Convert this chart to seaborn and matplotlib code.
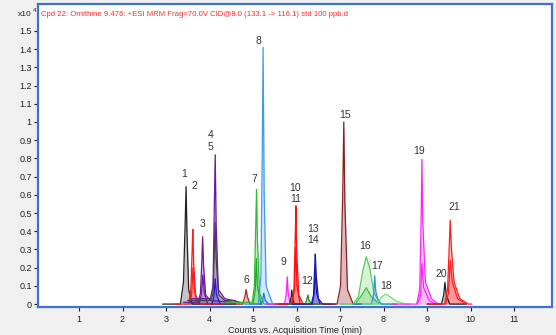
import matplotlib
matplotlib.use("Agg")
import matplotlib.pyplot as plt
from matplotlib.ticker import FuncFormatter, FixedLocator
import seaborn as sns
import pandas as pd

# ---------------- data (counts in units of 1e4, time in min) ----------------
title_text = "Cpd 22: Ornithine 9.476: +ESI MRM Frag=70.0V CID@8.0 (133.1 -> 116.1) std 100 ppb.d"
x_label = "Counts vs. Acquisition Time (min)"
x_ticks = [1, 2, 3, 4, 5, 6, 7, 8, 9, 10, 11]
y_ticks = [0, 0.1, 0.2, 0.3, 0.4, 0.5, 0.6, 0.7, 0.8, 0.9, 1.0, 1.1, 1.2, 1.3, 1.4, 1.5]

t_p1 = [2.92, 3.33, 3.40, 3.44, 3.46, 3.48, 3.52, 3.60, 4.60]
c_p1 = [0, 0, 0.12, 0.45, 0.645, 0.40, 0.08, 0, 0]
t_p2 = [3.20, 3.52, 3.57, 3.60, 3.615, 3.635, 3.68, 3.78, 4.30]
c_p2 = [0, 0, 0.08, 0.30, 0.41, 0.22, 0.05, 0, 0]
t_p2b = [3.55, 3.59, 3.62, 3.65, 3.72]
c_p2b = [0, 0.06, 0.20, 0.08, 0]
t_p3 = [3.40, 3.74, 3.79, 3.825, 3.84, 3.86, 3.91, 4.02, 4.50]
c_p3 = [0.01, 0.01, 0.06, 0.25, 0.37, 0.22, 0.05, 0.02, 0.01]
t_p3b = [3.76, 3.81, 3.845, 3.88, 3.96]
c_p3b = [0, 0.05, 0.16, 0.06, 0]
t_p4 = [3.50, 4.03, 4.08, 4.11, 4.125, 4.15, 4.21, 4.35, 4.60]
c_p4 = [0.02, 0.02, 0.06, 0.30, 0.45, 0.25, 0.05, 0.02, 0.02]
t_p5 = [3.60, 4.02, 4.08, 4.11, 4.13, 4.15, 4.20, 4.35, 4.70]
c_p5 = [0.03, 0.03, 0.10, 0.55, 0.82, 0.45, 0.08, 0.03, 0.01]
t_p5b = [4.05, 4.10, 4.13, 4.16, 4.25]
c_p5b = [0, 0.04, 0.14, 0.05, 0]
t_p6 = [4.50, 4.76, 4.81, 4.84, 4.87, 4.93, 5.20]
c_p6 = [0, 0, 0.04, 0.08, 0.04, 0, 0]
t_p7 = [4.40, 4.98, 5.03, 5.06, 5.08, 5.10, 5.15, 5.25, 5.60]
c_p7 = [0.01, 0.01, 0.10, 0.42, 0.63, 0.35, 0.06, 0, 0]
t_p7b = [5.00, 5.05, 5.075, 5.10, 5.18]
c_p7b = [0, 0.08, 0.25, 0.10, 0]
t_p8 = [4.80, 5.12, 5.18, 5.21, 5.23, 5.255, 5.30, 5.45, 5.80]
c_p8 = [0, 0, 0.15, 0.80, 1.41, 0.60, 0.10, 0, 0]
t_p8b = [5.17, 5.22, 5.245, 5.28, 5.36]
c_p8b = [0, 0.02, 0.06, 0.02, 0]
t_p9 = [5.30, 5.72, 5.76, 5.785, 5.81, 5.86, 6.30]
c_p9 = [0, 0, 0.05, 0.15, 0.05, 0, 0]
t_p9k = [5.60, 5.84, 5.875, 5.89, 5.91, 5.95, 6.20]
c_p9k = [0, 0, 0.04, 0.077, 0.03, 0, 0]
t_p10 = [5.50, 5.88, 5.94, 5.97, 5.985, 6.00, 6.05, 6.15, 6.50]
c_p10 = [0, 0, 0.08, 0.38, 0.54, 0.30, 0.05, 0, 0]
t_p10b = [5.90, 5.95, 5.98, 6.01, 6.08]
c_p10b = [0, 0.08, 0.31, 0.10, 0]
t_p12 = [5.80, 6.20, 6.24, 6.26, 6.28, 6.33, 6.80]
c_p12 = [0, 0, 0.03, 0.05, 0.025, 0, 0]
t_p13 = [5.90, 6.34, 6.39, 6.415, 6.43, 6.45, 6.50, 6.60, 6.90]
c_p13 = [0, 0, 0.05, 0.20, 0.275, 0.16, 0.03, 0, 0]
t_p13b = [6.36, 6.40, 6.43, 6.46, 6.54]
c_p13b = [0, 0.05, 0.19, 0.06, 0]
t_p15 = [6.60, 6.93, 7.01, 7.06, 7.085, 7.11, 7.17, 7.30, 7.50]
c_p15 = [0, 0, 0.10, 0.60, 1.00, 0.55, 0.08, 0, 0]
t_p16 = [7.00, 7.30, 7.42, 7.52, 7.60, 7.68, 7.78, 7.95, 8.30]
c_p16 = [0, 0, 0.04, 0.18, 0.26, 0.20, 0.06, 0, 0]
t_p16b = [7.35, 7.50, 7.60, 7.72, 7.90]
c_p16b = [0, 0.05, 0.09, 0.04, 0]
t_p17 = [7.30, 7.72, 7.77, 7.795, 7.82, 7.87, 7.95, 8.30]
c_p17 = [0, 0, 0.05, 0.155, 0.07, 0.02, 0, 0]
t_p18 = [7.50, 7.85, 7.95, 8.05, 8.15, 8.30, 8.50, 8.60]
c_p18 = [0, 0, 0.04, 0.055, 0.04, 0.015, 0, 0]
t_p19 = [8.20, 8.76, 8.83, 8.865, 8.88, 8.90, 8.96, 9.10, 9.25, 9.40]
c_p19 = [0, 0, 0.08, 0.50, 0.795, 0.45, 0.12, 0.03, 0, 0]
t_p19b = [8.78, 8.85, 8.88, 8.92, 9.05, 9.20]
c_p19b = [0, 0.05, 0.225, 0.09, 0.02, 0]
t_p20 = [9.00, 9.33, 9.38, 9.41, 9.44, 9.52, 9.90]
c_p20 = [0, 0, 0.05, 0.12, 0.05, 0, 0]
t_p21 = [9.00, 9.40, 9.47, 9.51, 9.53, 9.56, 9.62, 9.75, 9.95, 10.03]
c_p21 = [0, 0, 0.08, 0.33, 0.46, 0.30, 0.12, 0.03, 0, 0]
t_p21b = [9.42, 9.49, 9.53, 9.58, 9.70, 9.90]
c_p21b = [0, 0.06, 0.24, 0.12, 0.03, 0]

peak_labels = ["1", "2", "3", "4", "5", "6", "7", "8", "9", "10", "11",
               "12", "13", "14", "15", "16", "17", "18", "19", "20", "21"]
label_times = [3.42, 3.64, 3.84, 4.03, 4.03, 4.84, 5.02, 5.12, 5.70, 5.97, 5.97,
               6.24, 6.37, 6.37, 7.11, 7.57, 7.84, 8.06, 8.82, 9.32, 9.62]
label_counts = [0.713, 0.648, 0.438, 0.93, 0.864, 0.132, 0.685, 1.445, 0.232, 0.639, 0.579,
                0.126, 0.41, 0.35, 1.038, 0.32, 0.21, 0.10, 0.842, 0.167, 0.531]

# ---------------- styles ----------------
traces = [
    ("p1", t_p1, c_p1, "#222222", "#808080"),
    ("p2", t_p2, c_p2, "#ff1a1a", "#ff6666"),
    ("p2b", t_p2b, c_p2b, "#ff1a1a", "#ff6666"),
    ("p3", t_p3, c_p3, "#6a1b9a", "#9c6ac0"),
    ("p3b", t_p3b, c_p3b, "#6a1b9a", "#9c6ac0"),
    ("p4", t_p4, c_p4, "#444444", "#8a8a8a"),
    ("p5", t_p5, c_p5, "#6a1b9a", "#9c6ac0"),
    ("p5b", t_p5b, c_p5b, "#2020c0", "#6060e0"),
    ("p6", t_p6, c_p6, "#a52a2a", "#c87070"),
    ("p7", t_p7, c_p7, "#33bb33", "#80dd80"),
    ("p7b", t_p7b, c_p7b, "#22aa22", "#66cc66"),
    ("p8", t_p8, c_p8, "#3d9cf0", "#9ccaf5"),
    ("p8b", t_p8b, c_p8b, "#1e7ad8", "#7fb6ee"),
    ("p9", t_p9, c_p9, "#ff22ff", "#ff88ff"),
    ("p9k", t_p9k, c_p9k, "#222222", "#808080"),
    ("p10", t_p10, c_p10, "#ff1010", "#ff6060"),
    ("p10b", t_p10b, c_p10b, "#ff1010", "#ff6060"),
    ("p12", t_p12, c_p12, "#1f8f1f", "#66bb66"),
    ("p13", t_p13, c_p13, "#1a1ab0", "#5a5ad0"),
    ("p13b", t_p13b, c_p13b, "#1a1ab0", "#5a5ad0"),
    ("p15", t_p15, c_p15, "#8b2020", "#b46a6a"),
    ("p16", t_p16, c_p16, "#55cc55", "#a8e6a8"),
    ("p16b", t_p16b, c_p16b, "#44bb44", "#88d888"),
    ("p17", t_p17, c_p17, "#2b8ff0", "#8cc2f5"),
    ("p18", t_p18, c_p18, "#77dd77", "#c2eec2"),
    ("p19", t_p19, c_p19, "#ff22ff", "#ff9aff"),
    ("p19b", t_p19b, c_p19b, "#ff22ff", "#ff9aff"),
    ("p20", t_p20, c_p20, "#222222", "#808080"),
    ("p21", t_p21, c_p21, "#ff2020", "#ff7070"),
    ("p21b", t_p21b, c_p21b, "#ff2020", "#ff7070"),
]

rows = []
for name, ts, cs, _, _ in traces:
    for t, c in zip(ts, cs):
        rows.append({"trace": name, "time": t, "counts": c})
df = pd.DataFrame(rows)
palette = {name: lc for name, _, _, lc, _ in traces}

sns.set_theme(style="white")
plt.rcParams["font.family"] = ["Liberation Sans", "DejaVu Sans"]

fig = plt.figure(figsize=(5.56, 3.35), dpi=100, facecolor="#f0f0f0")
ax = fig.add_axes([38 / 556, 1 - 307 / 335, (552 - 38) / 556, (307 - 4) / 335])
ax.set_facecolor("white")

for name, ts, cs, lc, fc in traces:
    ax.fill_between(ts, cs, 0, color=fc, alpha=0.45, lw=0, zorder=1)

sns.lineplot(data=df, x="time", y="counts", hue="trace", palette=palette,
             estimator=None, sort=False, legend=False, lw=0.9, ax=ax, zorder=2)

for lab, t, c in zip(peak_labels, label_times, label_counts):
    ax.text(t, c, lab, ha="center", va="center", fontsize=7.5, color="#333333", zorder=5)

ax.set_xlim(0.057, 11.87)
ax.set_ylim(-0.016, 1.648)
ax.xaxis.set_major_locator(FixedLocator(x_ticks))
ax.yaxis.set_major_locator(FixedLocator(y_ticks))
ax.yaxis.set_major_formatter(FuncFormatter(lambda v, p: "%g" % round(v, 2)))
ax.tick_params(axis="both", which="major", direction="out", length=3, width=0.8,
               colors="#222222", labelsize=6.5, pad=1.5)
ax.tick_params(axis="x", pad=3)
ax.tick_params(left=True, bottom=True)
ax.set_xlabel(x_label, fontsize=6.5, color="#222222", labelpad=1)
ax.set_ylabel("")

for s in ax.spines.values():
    s.set_color("#3b74d0")
    s.set_linewidth(1.6)
    s.set_visible(True)

ax.text(0.006, 0.977, title_text, transform=ax.transAxes, ha="left", va="top",
        fontsize=5.6, color="#ff2a2a")
fig.text(32 / 556, 1 - 15 / 335, "x10", fontsize=6, color="#222222", va="center", ha="right")
fig.text(32.5 / 556, 1 - 10 / 335, "4", fontsize=4.5, color="#222222", va="center", ha="left")

fig.savefig("out.png", dpi=100, facecolor=fig.get_facecolor())
